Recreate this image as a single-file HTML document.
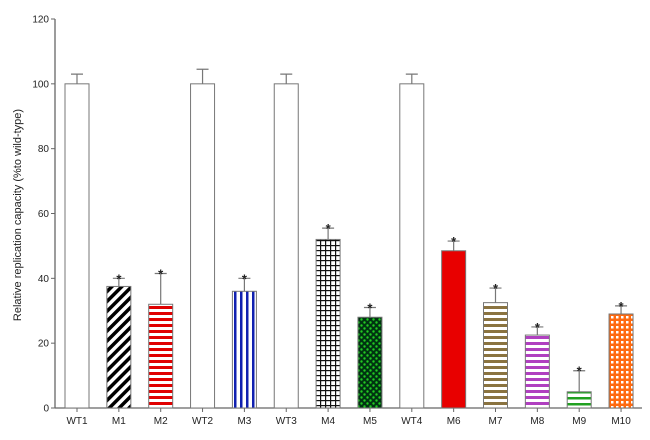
<!DOCTYPE html>
<html><head><meta charset="utf-8"><style>
body{margin:0;background:#fff;}
svg text{font-family:"Liberation Sans",sans-serif;fill:#222;}
</style></head><body>
<svg id="chart" width="650" height="435" viewBox="0 0 650 435" xmlns="http://www.w3.org/2000/svg">
<defs>
<pattern id="p-diag" patternUnits="userSpaceOnUse" width="7" height="7" patternTransform="rotate(45)"><rect width="7" height="7" fill="#fff"/><rect width="3.5" height="7" fill="#000"/></pattern>
<pattern id="p-redh" patternUnits="userSpaceOnUse" width="6" height="6"><rect width="6" height="6" fill="#fff"/><rect width="6" height="3" fill="#e00000"/></pattern>
<pattern id="p-bluev" patternUnits="userSpaceOnUse" width="6" height="6"><rect width="6" height="6" fill="#fff"/><rect width="2.5" height="6" fill="#1020b0"/></pattern>
<pattern id="p-grid" patternUnits="userSpaceOnUse" width="5" height="5"><rect width="5" height="5" fill="#fff"/><rect width="5" height="1.2" fill="#111"/><rect width="1.2" height="5" fill="#111"/></pattern>
<pattern id="p-dots" patternUnits="userSpaceOnUse" width="6" height="6"><rect width="6" height="6" fill="#031"/><circle cx="1.5" cy="1.5" r="1.2" fill="#2c2"/><circle cx="4.5" cy="4.5" r="1.2" fill="#2c2"/></pattern>
<pattern id="p-brown" patternUnits="userSpaceOnUse" width="6" height="6"><rect width="6" height="6" fill="#fff"/><rect width="6" height="3" fill="#8a7340"/></pattern>
<pattern id="p-purple" patternUnits="userSpaceOnUse" width="6" height="6"><rect width="6" height="6" fill="#fff"/><rect width="6" height="3" fill="#b040c0"/></pattern>
<pattern id="p-green" patternUnits="userSpaceOnUse" width="6" height="6"><rect width="6" height="6" fill="#fff"/><rect y="1" width="6" height="2.5" fill="#20a020"/></pattern>
<pattern id="p-orange" patternUnits="userSpaceOnUse" width="5" height="5"><rect width="5" height="5" fill="#ff6a10"/><rect x="1" y="1" width="2.5" height="2.5" fill="#fff"/></pattern>
</defs>
<g id="plot"></g>
<text transform="translate(21,215) rotate(-90)" text-anchor="middle" font-size="11">Relative replication capacity (%to wild-type)</text>
</svg>
<script>
const categories=["WT1","M1","M2","WT2","M3","WT3","M4","M5","WT4","M6","M7","M8","M9","M10"];
const values=[100,37.5,32,100,36,100,52,28,100,48.5,32.5,22.5,5,29];
const errors=[3,2.5,9.5,4.5,4,3,3.5,3,3,3,4.5,2.5,6.5,2.5];
const significant=[false,true,true,false,true,false,true,true,false,true,true,true,true,true];
const fills=["#fff","url(#p-diag)","url(#p-redh)","#fff","url(#p-bluev)","#fff","url(#p-grid)","url(#p-dots)","#fff","#e80000","url(#p-brown)","url(#p-purple)","url(#p-green)","url(#p-orange)"];
const yTicks=[0,20,40,60,80,100,120];
const NS="http://www.w3.org/2000/svg";
const g=document.getElementById("plot");
const x0=55,x1=642,yb=408,yt=19,ymax=120;
const y=v=>yb-(v/ymax)*(yb-yt);
const step=41.85, firstC=77;
const xc=i=>firstC+i*step;
const bw=24;
function mk(t,a){const e=document.createElementNS(NS,t);for(const k in a)e.setAttribute(k,a[k]);g.appendChild(e);return e;}
let e=mk("line",{x1:x0,y1:yt,x2:x0,y2:yb,stroke:"#666","stroke-width":1.3});


e=mk("line",{x1:x0,y1:yb,x2:x1,y2:yb,stroke:"#666","stroke-width":1.3});


yTicks.forEach(t=>{
  let l=mk("line",{x1:x0-4,y1:y(t),x2:x0,y2:y(t),stroke:"#666"});
  
  
  let tx=mk("text",{x:x0-6,y:y(t)+3.5,"text-anchor":"end","font-size":"10"});
  tx.textContent=t;
  
  
});
categories.forEach((c,i)=>{
  const cx=xc(i);
  let tk=mk("line",{x1:cx,y1:yb,x2:cx,y2:yb+4,stroke:"#666"});
  
  
  let eb=mk("path",{d:`M${cx},${y(values[i])} V${y(values[i]+errors[i])} M${cx-6},${y(values[i]+errors[i])} H${cx+6}`,stroke:"#777",fill:"none","stroke-width":1.2});
  
  
  let r=mk("rect",{x:cx-bw/2,y:y(values[i]),width:bw,height:yb-y(values[i]),fill:fills[i],stroke:"#777","stroke-width":1});
  
  
  let lb=mk("text",{x:cx,y:yb+16,"text-anchor":"middle","font-size":"10"});
  lb.textContent=c;
  
  
  if(significant[i]){
    let s=mk("text",{x:cx,y:y(values[i]+errors[i])+5,"text-anchor":"middle","font-size":"13","font-weight":"bold"});
    s.textContent="*";
    
    
  }
});
</script>
</body></html>
